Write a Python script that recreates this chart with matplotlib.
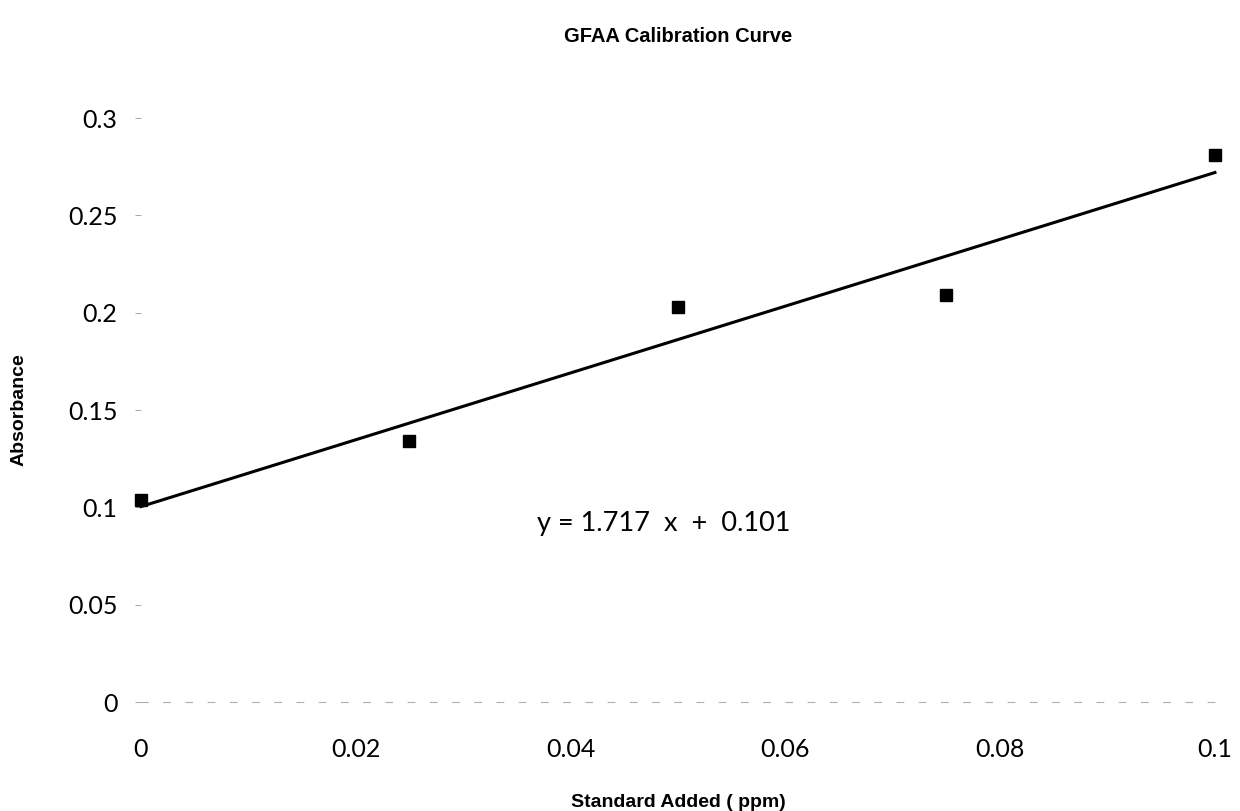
'''
GFAA calibration curve: absorbance vs standard added, with linear fit.
'''
import numpy as np
import matplotlib
matplotlib.use('Agg')
import matplotlib.pyplot as plt
from matplotlib import rcParams

rcParams.update({'font.family': ['Lato', 'DejaVu Sans']})

# standard additions (ppm) and measured absorbance
std_added = [0.0, 0.025, 0.05, 0.075, 0.1]
absorbance = [0.104, 0.134, 0.203, 0.209, 0.281]

x_ticks = [0, 0.02, 0.04, 0.06, 0.08, 0.1]
x_ticklabels = ['0', '0.02', '0.04', '0.06', '0.08', '0.1']
y_ticks = [0, 0.05, 0.1, 0.15, 0.2, 0.25, 0.3]
y_ticklabels = ['0', '0.05', '0.1', '0.15', '0.2', '0.25', '0.3']

TITLE = 'GFAA Calibration Curve'
XLABEL = 'Standard Added ( ppm)'
YLABEL = 'Absorbance'
EQUATION = 'y = 1.717  x  +  0.101'

FIG = plt.figure(figsize=(12.4, 8.11), dpi=100)
ax = FIG.add_axes([0.1137, 0.1344, 0.9798 - 0.1137, 0.8545 - 0.1344])

# linear fit through the standards
slope, icpt = np.polyfit(std_added, absorbance, 1)
xfit = np.array([std_added[0], std_added[-1]])
ax.plot(xfit, slope * xfit + icpt, color='k', lw=2.2, clip_on=False)
ax.plot(std_added, absorbance, ls='none', marker='s', ms=8.5, color='k',
        clip_on=False, zorder=3)

ax.text(0.0369, 0.0915, EQUATION, fontsize=19.5, color='k',
        va='center', ha='left')

ax.set_xlim(0, 0.1)
ax.set_ylim(0, 0.3)
ax.set_xticks(x_ticks)
ax.set_xticklabels(x_ticklabels)
ax.set_yticks(y_ticks)
ax.set_yticklabels(y_ticklabels)

for s in ['top', 'right', 'left']:
    ax.spines[s].set_visible(False)
ax.spines['bottom'].set_color('#b0b0b0')
ax.spines['bottom'].set_linewidth(0.8)
ax.spines['bottom'].set_linestyle((0, (6, 14)))

ax.tick_params(axis='x', length=0, pad=26, labelsize=18, labelcolor='k')
ax.tick_params(axis='y', length=4, width=0.6, color='#999999', pad=13,
               labelsize=18, labelcolor='k')

ax.set_title(TITLE, fontsize=14.5, fontweight='bold',
             family=['Liberation Sans', 'DejaVu Sans'], pad=55)
ax.set_xlabel(XLABEL, fontsize=14, fontweight='bold',
              family=['Liberation Sans', 'DejaVu Sans'], labelpad=24)
ax.set_ylabel(YLABEL, fontsize=14, fontweight='bold',
              family=['Liberation Sans', 'DejaVu Sans'], labelpad=29)

FIG.savefig('out.png', dpi=100)
